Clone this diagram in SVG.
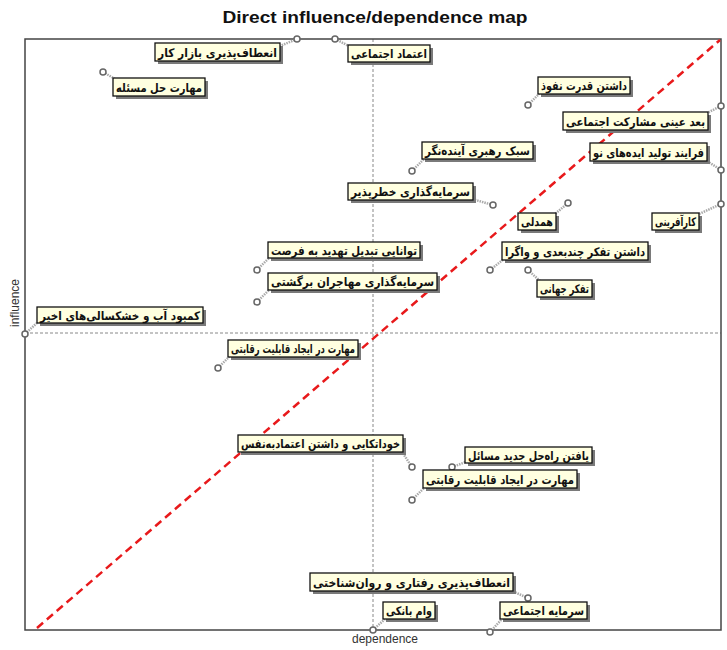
<svg xmlns="http://www.w3.org/2000/svg" width="727" height="650" viewBox="0 0 727 650">
<style>
.title{font-family:"Liberation Sans",Arial,sans-serif;font-weight:bold;font-size:16px;fill:#111}
.ax{font-family:"Liberation Sans",Arial,sans-serif;font-size:12px;fill:#333}
.box{fill:#ffffe0;stroke:#111;stroke-width:1.3}
.sh{fill:#7a7a7a}
.lb{font-family:"DejaVu Sans","Noto Sans",sans-serif;font-weight:bold;font-size:12px;fill:#111;text-anchor:middle}
.pt{fill:#fff;stroke:#666;stroke-width:1.5}
.cn{stroke:#aaa;stroke-width:2.5;stroke-dasharray:1.5 1;fill:none}
.grid{stroke:#888;stroke-width:1;stroke-dasharray:3 2;fill:none}
</style>
<rect x="0" y="0" width="727" height="650" fill="#fff"/>
<text class="title" x="375" y="23" text-anchor="middle" textLength="305" lengthAdjust="spacingAndGlyphs">Direct influence/dependence map</text>
<g id="axes">
<line class="grid" x1="373" y1="39" x2="373" y2="630"/>
<line class="grid" x1="25" y1="333" x2="721" y2="333"/>
<rect x="25" y="39" width="696" height="591" fill="none" stroke="#444" stroke-width="1.5"/>
<line x1="37" y1="628" x2="720" y2="40" stroke="#e8191b" stroke-width="2.5" stroke-dasharray="8 5"/>
<text class="ax" x="385" y="643" text-anchor="middle">dependence</text>
<text class="ax" transform="translate(19,303) rotate(-90)" text-anchor="middle">influence</text>
</g>
<g id="connectors">
<line class="cn" x1="297" y1="39" x2="280" y2="46"/>
<line class="cn" x1="335" y1="39" x2="349" y2="46"/>
<line class="cn" x1="103" y1="72" x2="115" y2="79"/>
<line class="cn" x1="528" y1="105" x2="540" y2="93"/>
<line class="cn" x1="721" y1="106" x2="707" y2="113"/>
<line class="cn" x1="721" y1="170" x2="707" y2="161"/>
<line class="cn" x1="412" y1="171" x2="425" y2="158"/>
<line class="cn" x1="493" y1="205" x2="472" y2="199"/>
<line class="cn" x1="568" y1="203" x2="555" y2="214"/>
<line class="cn" x1="721" y1="204" x2="699" y2="214"/>
<line class="cn" x1="257" y1="270" x2="270" y2="257"/>
<line class="cn" x1="257" y1="302" x2="270" y2="289"/>
<line class="cn" x1="490" y1="270" x2="504" y2="259"/>
<line class="cn" x1="528" y1="270" x2="540" y2="281"/>
<line class="cn" x1="25" y1="334" x2="38" y2="322"/>
<line class="cn" x1="218" y1="368" x2="230" y2="356"/>
<line class="cn" x1="412" y1="467" x2="402" y2="452"/>
<line class="cn" x1="452" y1="467" x2="466" y2="462"/>
<line class="cn" x1="412" y1="500" x2="425" y2="487"/>
<line class="cn" x1="528" y1="598" x2="512" y2="591"/>
<line class="cn" x1="373" y1="630" x2="385" y2="619"/>
<line class="cn" x1="490" y1="632" x2="502" y2="619"/>
</g>
<g id="n1"><rect class="sh" x="158" y="46" width="125" height="18"/><rect class="box" x="155" y="43" width="125" height="18"/><text class="lb" x="217.5" y="56.5" textLength="119" lengthAdjust="spacingAndGlyphs">انعطاف‌پذیری بازار کار</text><circle class="pt" cx="297" cy="39" r="3"/></g>
<g id="n2"><rect class="sh" x="351" y="48" width="82" height="17"/><rect class="box" x="348" y="45" width="82" height="17"/><text class="lb" x="389" y="58" textLength="76" lengthAdjust="spacingAndGlyphs">اعتماد اجتماعی</text><circle class="pt" cx="335" cy="39" r="3"/></g>
<g id="n3"><rect class="sh" x="116" y="81" width="92" height="18"/><rect class="box" x="113" y="78" width="92" height="18"/><text class="lb" x="159" y="91.5" textLength="86" lengthAdjust="spacingAndGlyphs">مهارت حل مسئله</text><circle class="pt" cx="103" cy="72" r="3"/></g>
<g id="n4"><rect class="sh" x="541" y="80" width="92" height="17"/><rect class="box" x="538" y="77" width="92" height="17"/><text class="lb" x="584" y="90" textLength="86" lengthAdjust="spacingAndGlyphs">داشتن قدرت نفوذ</text><circle class="pt" cx="528" cy="105" r="3"/></g>
<g id="n5"><rect class="sh" x="566" y="115" width="145" height="18"/><rect class="box" x="563" y="112" width="145" height="18"/><text class="lb" x="635.5" y="125.5" textLength="139" lengthAdjust="spacingAndGlyphs">بعد عینی مشارکت اجتماعی</text><circle class="pt" cx="721" cy="106" r="3"/></g>
<g id="n6"><rect class="sh" x="593" y="146" width="117" height="18"/><rect class="box" x="590" y="143" width="117" height="18"/><text class="lb" x="648.5" y="156.5" textLength="111" lengthAdjust="spacingAndGlyphs">فرایند تولید ایده‌های نو</text><circle class="pt" cx="721" cy="170" r="3"/></g>
<g id="n7"><rect class="sh" x="425" y="145" width="111" height="17"/><rect class="box" x="422" y="142" width="111" height="17"/><text class="lb" x="477.5" y="155" textLength="105" lengthAdjust="spacingAndGlyphs">سبک رهبری آینده‌نگر</text><circle class="pt" cx="412" cy="171" r="3"/></g>
<g id="n8"><rect class="sh" x="351" y="186" width="125" height="17"/><rect class="box" x="348" y="183" width="125" height="17"/><text class="lb" x="410.5" y="196" textLength="119" lengthAdjust="spacingAndGlyphs">سرمایه‌گذاری خطرپذیر</text><circle class="pt" cx="493" cy="205" r="3"/></g>
<g id="n9"><rect class="sh" x="521" y="216" width="38" height="17"/><rect class="box" x="518" y="213" width="38" height="17"/><text class="lb" x="537" y="226" textLength="32" lengthAdjust="spacingAndGlyphs">همدلی</text><circle class="pt" cx="568" cy="203" r="3"/></g>
<g id="n10"><rect class="sh" x="655" y="216" width="47" height="17"/><rect class="box" x="652" y="213" width="47" height="17"/><text class="lb" x="675.5" y="226" textLength="41" lengthAdjust="spacingAndGlyphs">کارآفرینی</text><circle class="pt" cx="721" cy="204" r="3"/></g>
<g id="n11"><rect class="sh" x="271" y="245" width="152" height="16"/><rect class="box" x="268" y="242" width="152" height="16"/><text class="lb" x="344" y="254.5" textLength="146" lengthAdjust="spacingAndGlyphs">توانایی تبدیل تهدید به فرصت</text><circle class="pt" cx="257" cy="270" r="3"/></g>
<g id="n12"><rect class="sh" x="271" y="276" width="169" height="17"/><rect class="box" x="268" y="273" width="169" height="17"/><text class="lb" x="352.5" y="286" textLength="163" lengthAdjust="spacingAndGlyphs">سرمایه‌گذاری مهاجران برگشتی</text><circle class="pt" cx="257" cy="302" r="3"/></g>
<g id="n13"><rect class="sh" x="505" y="245" width="146" height="18"/><rect class="box" x="502" y="242" width="146" height="18"/><text class="lb" x="575" y="255.5" textLength="140" lengthAdjust="spacingAndGlyphs">داشتن تفکر چندبعدی و واگرا</text><circle class="pt" cx="490" cy="270" r="3"/></g>
<g id="n14"><rect class="sh" x="540" y="283" width="55" height="17"/><rect class="box" x="537" y="280" width="55" height="17"/><text class="lb" x="564.5" y="293" textLength="49" lengthAdjust="spacingAndGlyphs">تفکر جهانی</text><circle class="pt" cx="528" cy="270" r="3"/></g>
<g id="n15"><rect class="sh" x="40" y="310" width="166" height="16"/><rect class="box" x="37" y="307" width="166" height="16"/><text class="lb" x="120" y="319.5" textLength="160" lengthAdjust="spacingAndGlyphs">کمبود آب و خشکسالی‌های اخیر</text><circle class="pt" cx="25" cy="334" r="3"/></g>
<g id="n16"><rect class="sh" x="231" y="343" width="130" height="17"/><rect class="box" x="228" y="340" width="130" height="17"/><text class="lb" x="293" y="353" textLength="124" lengthAdjust="spacingAndGlyphs">مهارت در ایجاد قابلیت رقابتی</text><circle class="pt" cx="218" cy="368" r="3"/></g>
<g id="n17"><rect class="sh" x="241" y="438" width="165" height="17"/><rect class="box" x="238" y="435" width="165" height="17"/><text class="lb" x="320.5" y="448" textLength="159" lengthAdjust="spacingAndGlyphs">خوداتکایی و داشتن اعتمادبه‌نفس</text><circle class="pt" cx="412" cy="467" r="3"/></g>
<g id="n18"><rect class="sh" x="468" y="450" width="127" height="16"/><rect class="box" x="465" y="447" width="127" height="16"/><text class="lb" x="528.5" y="459.5" textLength="121" lengthAdjust="spacingAndGlyphs">یافتن راه‌حل جدید مسائل</text><circle class="pt" cx="452" cy="467" r="3"/></g>
<g id="n19"><rect class="sh" x="426" y="473" width="154" height="18"/><rect class="box" x="423" y="470" width="154" height="18"/><text class="lb" x="500" y="483.5" textLength="148" lengthAdjust="spacingAndGlyphs">مهارت در ایجاد قابلیت رقابتی</text><circle class="pt" cx="412" cy="500" r="3"/></g>
<g id="n20"><rect class="sh" x="313" y="576" width="203" height="18"/><rect class="box" x="310" y="573" width="203" height="18"/><text class="lb" x="411.5" y="586.5" textLength="197" lengthAdjust="spacingAndGlyphs">انعطاف‌پذیری رفتاری و روان‌شناختی</text><circle class="pt" cx="528" cy="598" r="3"/></g>
<g id="n21"><rect class="sh" x="386" y="605" width="52" height="17"/><rect class="box" x="383" y="602" width="52" height="17"/><text class="lb" x="409" y="615" textLength="46" lengthAdjust="spacingAndGlyphs">وام بانکی</text><circle class="pt" cx="373" cy="630" r="3"/></g>
<g id="n22"><rect class="sh" x="503" y="605" width="87" height="17"/><rect class="box" x="500" y="602" width="87" height="17"/><text class="lb" x="543.5" y="615" textLength="81" lengthAdjust="spacingAndGlyphs">سرمایه اجتماعی</text><circle class="pt" cx="490" cy="632" r="3"/></g>
</svg>
